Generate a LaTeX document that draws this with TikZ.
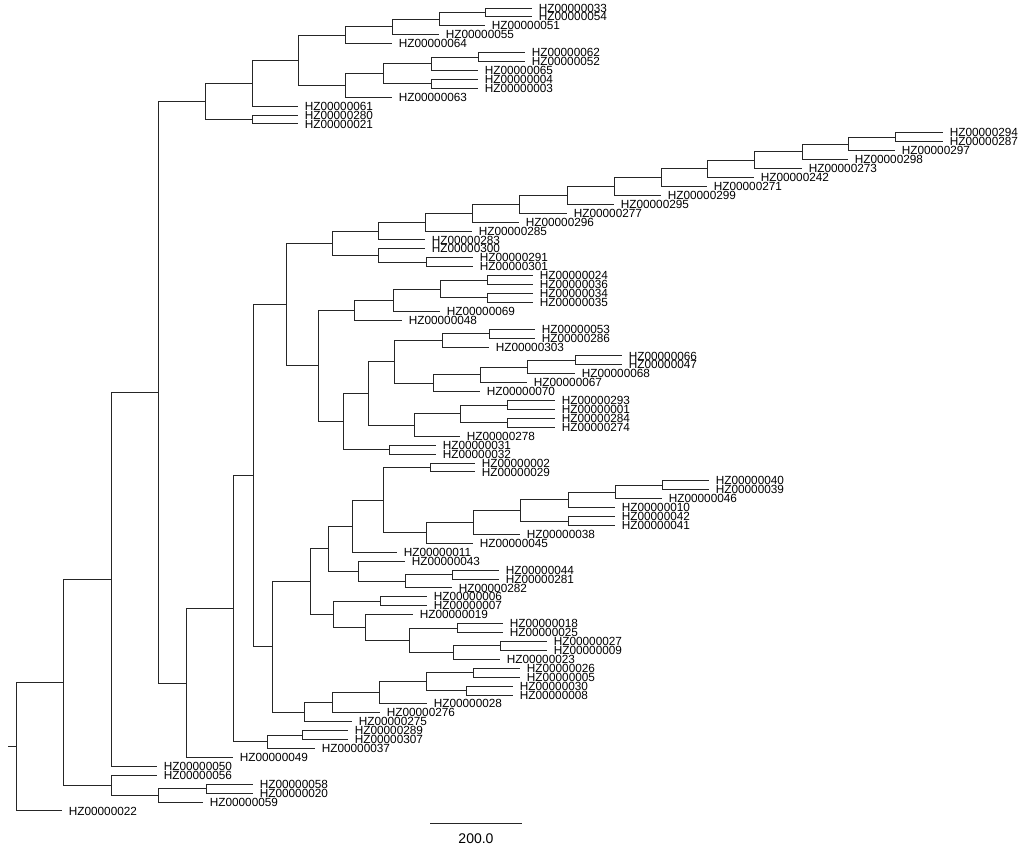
\documentclass[tikz,border=0pt]{standalone}
\usepackage{fontspec}
\setmainfont{Liberation Sans}
\usepackage{tikz}
\usetikzlibrary{calc}

% leaf: id, end of branch (px), row
\newcommand{\leaf}[3]{\node [leaf] (h#1) at (#2,{8+8.922*#3}) {HZ00000#1};}
% clade: name, x (px), first child, second child
\newcommand{\clade}[4]{%
	\path ($(#3)!.5!(#4)$) coordinate (#1-m);
	\coordinate (#1-x) at (#2,0);
	\coordinate (#1) at (#1-x |- #1-m);
	\draw [branch] (#1) |- (#3) (#1) |- (#4);}

\begin{document}
\begin{tikzpicture}[x=0.5pt, y=-0.5pt,
	leaf/.style={anchor=west, inner xsep=3.2pt, inner ysep=0pt, font=\fontsize{5.9}{6}\selectfont},
	branch/.style={line width=0.5pt, black!85}]
		%\draw [help lines] (0,0) grid (1024,847);
		\useasboundingbox (0,0) rectangle (1024,847);
		% Foglie
		\leaf{033}{532}{0}   \leaf{054}{532}{1}   \leaf{051}{485}{2}
		\leaf{055}{439}{3}   \leaf{064}{392}{4}   \leaf{062}{525}{5}
		\leaf{052}{525}{6}   \leaf{065}{478}{7}   \leaf{004}{478}{8}
		\leaf{003}{478}{9}   \leaf{063}{392}{10}  \leaf{061}{298}{11}
		\leaf{280}{298}{12}  \leaf{021}{298}{13}  \leaf{294}{943}{14}
		\leaf{287}{943}{15}  \leaf{297}{895}{16}  \leaf{298}{848}{17}
		\leaf{273}{802}{18}  \leaf{242}{754}{19}  \leaf{271}{707}{20}
		\leaf{299}{661}{21}  \leaf{295}{614}{22}  \leaf{277}{567}{23}
		\leaf{296}{519}{24}  \leaf{285}{472}{25}  \leaf{283}{425}{26}
		\leaf{300}{425}{27}  \leaf{291}{473}{28}  \leaf{301}{473}{29}
		\leaf{024}{533}{30}  \leaf{036}{533}{31}  \leaf{034}{533}{32}
		\leaf{035}{533}{33}  \leaf{069}{440}{34}  \leaf{048}{402}{35}
		\leaf{053}{535}{36}  \leaf{286}{535}{37}  \leaf{303}{489}{38}
		\leaf{066}{622}{39}  \leaf{047}{622}{40}  \leaf{068}{575}{41}
		\leaf{067}{527}{42}  \leaf{070}{480}{43}  \leaf{293}{555}{44}
		\leaf{001}{555}{45}  \leaf{284}{555}{46}  \leaf{274}{555}{47}
		\leaf{278}{460}{48}  \leaf{031}{436}{49}  \leaf{032}{436}{50}
		\leaf{002}{475}{51}  \leaf{029}{475}{52}  \leaf{040}{709}{53}
		\leaf{039}{709}{54}  \leaf{046}{662}{55}  \leaf{010}{615}{56}
		\leaf{042}{615}{57}  \leaf{041}{615}{58}  \leaf{038}{520}{59}
		\leaf{045}{473}{60}  \leaf{011}{397}{61}  \leaf{043}{405}{62}
		\leaf{044}{499}{63}  \leaf{281}{499}{64}  \leaf{282}{452}{65}
		\leaf{006}{427}{66}  \leaf{007}{427}{67}  \leaf{019}{413}{68}
		\leaf{018}{503}{69}  \leaf{025}{503}{70}  \leaf{027}{547}{71}
		\leaf{009}{547}{72}  \leaf{023}{500}{73}  \leaf{026}{520}{74}
		\leaf{005}{520}{75}  \leaf{030}{513}{76}  \leaf{008}{513}{77}
		\leaf{028}{427}{78}  \leaf{276}{380}{79}  \leaf{275}{352}{80}
		\leaf{289}{348}{81}  \leaf{307}{348}{82}  \leaf{037}{315}{83}
		\leaf{049}{233}{84}  \leaf{050}{157}{85}  \leaf{056}{157}{86}
		\leaf{058}{253}{87}  \leaf{020}{253}{88}  \leaf{059}{203}{89}
		\leaf{022}{62}{90}
		% Clade in alto
		\clade{J}{485}{h033}{h054}
		\clade{I}{439}{J}{h051}
		\clade{H}{392}{I}{h055}
		\clade{G}{345}{H}{h064}
		\clade{N}{478}{h062}{h052}
		\clade{L}{431}{N}{h065}
		\clade{M}{431}{h004}{h003}
		\clade{K}{383}{L}{M}
		\clade{G2}{345}{K}{h063}
		\clade{F}{298}{G}{G2}
		\clade{E}{252}{F}{h061}
		\clade{P}{252}{h280}{h021}
		\clade{D}{205}{E}{P}
		% Scala lunga
		\clade{S11}{895}{h294}{h287}
		\clade{S10}{848}{S11}{h297}
		\clade{S9}{802}{S10}{h298}
		\clade{S8}{754}{S9}{h273}
		\clade{S7}{707}{S8}{h242}
		\clade{S6}{661}{S7}{h271}
		\clade{S5}{614}{S6}{h299}
		\clade{S4}{567}{S5}{h295}
		\clade{S3}{519}{S4}{h277}
		\clade{S2}{472}{S3}{h296}
		\clade{S1}{425}{S2}{h285}
		\clade{S0}{378}{S1}{h283}
		\clade{Q2}{426}{h291}{h301}
		\clade{P2}{378}{h300}{Q2}
		\clade{X1}{332}{S0}{P2}
		% Clade centrale
		\clade{a1}{487}{h024}{h036}
		\clade{a2}{487}{h034}{h035}
		\clade{a3}{440}{a1}{a2}
		\clade{a4}{393}{a3}{h069}
		\clade{X3}{354}{a4}{h048}
		\clade{b1}{489}{h053}{h286}
		\clade{b2}{442}{b1}{h303}
		\clade{b3}{575}{h066}{h047}
		\clade{b4}{527}{b3}{h068}
		\clade{b5}{480}{b4}{h067}
		\clade{b6}{433}{b5}{h070}
		\clade{X6}{394}{b2}{b6}
		\clade{c1}{507}{h293}{h001}
		\clade{c2}{507}{h284}{h274}
		\clade{c3}{460}{c1}{c2}
		\clade{X7}{414}{c3}{h278}
		\clade{X5}{368}{X6}{X7}
		\clade{d1}{389}{h031}{h032}
		\clade{X4}{343}{X5}{d1}
		\clade{X2}{318}{X3}{X4}
		\clade{X0}{286}{X1}{X2}
		% Clade in basso
		\clade{e1}{662}{h040}{h039}
		\clade{e2}{615}{e1}{h046}
		\clade{e3}{568}{e2}{h010}
		\clade{e4}{568}{h042}{h041}
		\clade{e5}{520}{e3}{e4}
		\clade{e6}{473}{e5}{h038}
		\clade{e7}{426}{e6}{h045}
		\clade{e8}{430}{h002}{h029}
		\clade{Z1b}{383}{e8}{e7}
		\clade{Z1a}{352}{Z1b}{h011}
		\clade{f1}{452}{h044}{h281}
		\clade{f2}{405}{f1}{h282}
		\clade{Z1c}{358}{h043}{f2}
		\clade{Z1}{328}{Z1a}{Z1c}
		\clade{g1}{380}{h006}{h007}
		\clade{g2}{457}{h018}{h025}
		\clade{g3}{500}{h027}{h009}
		\clade{g4}{453}{g3}{h023}
		\clade{g5}{409}{g2}{g4}
		\clade{g6}{365}{h019}{g5}
		\clade{Z2}{333}{g1}{g6}
		\clade{Z}{310}{Z1}{Z2}
		\clade{k1}{473}{h026}{h005}
		\clade{k2}{466}{h030}{h008}
		\clade{k3}{426}{k1}{k2}
		\clade{k4}{379}{k3}{h028}
		\clade{k5}{332}{k4}{h276}
		\clade{k6}{304}{k5}{h275}
		\clade{Y}{272}{Z}{k6}
		\clade{V}{253}{X0}{Y}
		\clade{w1}{302}{h289}{h307}
		\clade{W}{267}{w1}{h037}
		\clade{U}{233}{V}{W}
		\clade{T}{186}{U}{h049}
		% Radice
		\clade{C}{158}{D}{T}
		\clade{B}{111}{C}{h050}
		\clade{s1}{206}{h058}{h020}
		\clade{R}{158}{s1}{h059}
		\clade{Q}{111}{h056}{R}
		\clade{A}{63}{B}{Q}
		\clade{root}{16}{A}{h022}
		\path (root) ++(-8,0) coordinate (stem);
		\draw [branch] (stem) -- (root);
		% Scala
		\coordinate (bar-l) at (430,823);
		\coordinate (bar-r) at (522,823);
		\draw [branch] (bar-l) -- (bar-r);
		\node [font=\fontsize{7}{8}\selectfont] (barlab) at (476,839) {200.0};
	\end{tikzpicture}
\end{document}
